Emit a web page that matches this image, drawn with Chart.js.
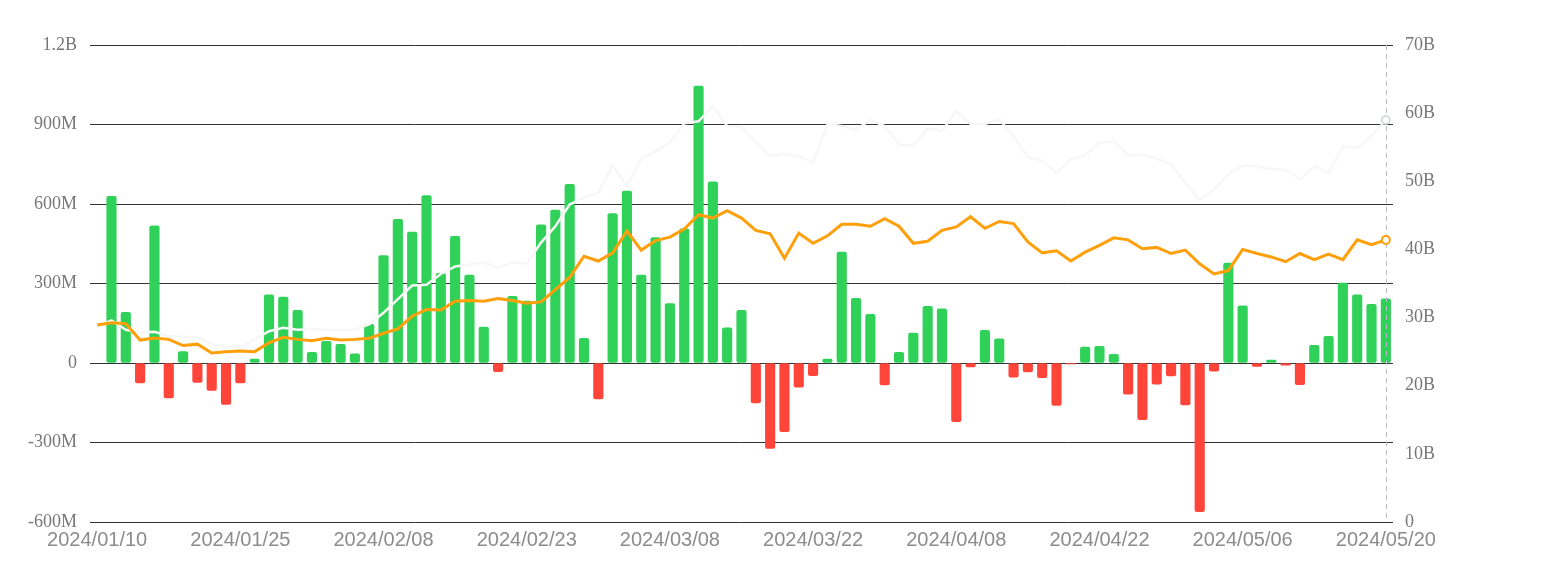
<!DOCTYPE html>
<html>
<head>
<meta charset="utf-8">
<script src="https://cdn.jsdelivr.net/npm/chart.js@4.4.0/dist/chart.umd.min.js"></script>
<style>
  html, body { margin: 0; background: #fff; }
  #wrap { width: 1548px; height: 567px; }
</style>
</head>
<body>
<div id="wrap"><canvas id="chart" width="1548" height="567"></canvas></div>
<script>
// trading days
const dates = [
  "2024/01/10", "2024/01/11", "2024/01/12", "2024/01/16", "2024/01/17", "2024/01/18", "2024/01/19",
  "2024/01/22", "2024/01/23", "2024/01/24", "2024/01/25", "2024/01/26", "2024/01/29", "2024/01/30",
  "2024/01/31", "2024/02/01", "2024/02/02", "2024/02/05", "2024/02/06", "2024/02/07", "2024/02/08",
  "2024/02/09", "2024/02/12", "2024/02/13", "2024/02/14", "2024/02/15", "2024/02/16", "2024/02/20",
  "2024/02/21", "2024/02/22", "2024/02/23", "2024/02/26", "2024/02/27", "2024/02/28", "2024/02/29",
  "2024/03/01", "2024/03/04", "2024/03/05", "2024/03/06", "2024/03/07", "2024/03/08", "2024/03/11",
  "2024/03/12", "2024/03/13", "2024/03/14", "2024/03/15", "2024/03/18", "2024/03/19", "2024/03/20",
  "2024/03/21", "2024/03/22", "2024/03/25", "2024/03/26", "2024/03/27", "2024/03/28", "2024/04/01",
  "2024/04/02", "2024/04/03", "2024/04/04", "2024/04/05", "2024/04/08", "2024/04/09", "2024/04/10",
  "2024/04/11", "2024/04/12", "2024/04/15", "2024/04/16", "2024/04/17", "2024/04/18", "2024/04/19",
  "2024/04/22", "2024/04/23", "2024/04/24", "2024/04/25", "2024/04/26", "2024/04/29", "2024/04/30",
  "2024/05/01", "2024/05/02", "2024/05/03", "2024/05/06", "2024/05/07", "2024/05/08", "2024/05/09",
  "2024/05/10", "2024/05/13", "2024/05/14", "2024/05/15", "2024/05/16", "2024/05/17", "2024/05/20"
];

// daily net flow, millions (left axis)
const netFlow = [
  null, 629, 191, -75, 518, -132, 43, -73, -103, -156,
  -75, 15, 257, 249, 199, 40, 82, 70, 35, 146,
  405, 542, 494, 632, 338, 478, 332, 136, -33, 252,
  234, 521, 577, 674, 93, -136, 564, 649, 332, 473,
  224, 506, 1045, 684, 133, 199, -151, -322, -259, -91,
  -48, 15, 419, 244, 184, -83, 40, 113, 214, 204,
  -221, -15, 123, 91, -53, -34, -55, -160, -3, 60,
  63, 33, -118, -214, -80, -49, -158, -561, -31, 377,
  216, -13, 11, -8, -82, 67, 101, 302, 257, 221,
  242
];

// orange line, billions (right axis)
const orangeLine = [
  28.9, 29.25, 29.1, 26.7, 27.0, 26.8, 25.9, 26.1, 24.8, 25.0,
  25.1, 25.0, 26.3, 27.1, 26.8, 26.6, 26.95, 26.7, 26.8, 26.95,
  27.7, 28.35, 30.2, 31.2, 31.1, 32.4, 32.5, 32.4, 32.8, 32.5,
  32.1, 32.3, 34.1, 35.9, 39.0, 38.3, 39.5, 42.7, 39.9, 41.3,
  41.8, 43.0, 45.1, 44.6, 45.7, 44.6, 42.8, 42.3, 38.7, 42.4,
  40.9, 42.0, 43.7, 43.7, 43.4, 44.5, 43.4, 40.9, 41.2, 42.8,
  43.3, 44.8, 43.1, 44.1, 43.8, 41.1, 39.5, 39.8, 38.3, 39.6,
  40.6, 41.7, 41.4, 40.1, 40.3, 39.4, 39.9, 37.9, 36.4, 36.9,
  40.0, 39.4, 38.9, 38.2, 39.4, 38.5, 39.3, 38.5, 41.4, 40.7,
  41.4
];

// white line, billions (right axis)
const whiteLine = [
  28.7, 29.6, 28.2, 27.8, 27.9, 27.3, 27.2, 27.1, 26.1, 25.8,
  25.6, 26.8, 28.0, 28.5, 28.2, 28.3, 28.2, 28.1, 28.3, 29.0,
  30.7, 32.7, 34.7, 34.8, 36.4, 37.5, 37.8, 38.1, 37.3, 38.1,
  37.9, 41.0, 43.4, 46.6, 47.6, 48.3, 52.3, 49.3, 53.3, 54.4,
  55.7, 58.5, 58.8, 61.0, 58.1, 58.0, 55.7, 53.7, 54.0, 53.7,
  52.7, 58.4, 58.1, 57.6, 59.0, 58.1, 55.4, 55.2, 57.7, 57.4,
  60.3, 58.4, 58.4, 59.1, 56.6, 53.5, 53.0, 51.3, 53.2, 53.8,
  55.7, 55.9, 53.8, 53.9, 53.3, 52.5, 49.8, 47.3, 48.8, 51.0,
  52.3, 52.2, 51.8, 51.7, 50.3, 52.2, 51.2, 55.1, 54.9, 56.6,
  59.0
];

const GREEN = "#30d158";
const RED = "#ff453a";
const ORANGE = "#ff9f0a";
const lastIdx = dates.length - 1;

const fmtLeft = (v) => {
  if (v === 0) return "0";
  if (Math.abs(v) >= 1000) return (v / 1000) + "B";
  return v + "M";
};

// dashed hover line at the last day, drawn above bars, below lines
const crosshair = {
  id: "crosshair",
  afterDatasetDraw(chart, args) {
    if (args.index !== 2) return;
    const { ctx, chartArea } = chart;
    const x = Math.round(chart.scales.x.getPixelForValue(lastIdx)) + 0.5;
    ctx.save();
    ctx.strokeStyle = "#b8bcc4";
    ctx.lineWidth = 1;
    ctx.setLineDash([5, 4]);
    ctx.beginPath();
    ctx.moveTo(x, chartArea.top);
    ctx.lineTo(x, chartArea.bottom);
    ctx.stroke();
    ctx.restore();
  },
};

new Chart(document.getElementById("chart"), {
  type: "bar",
  data: {
    labels: dates,
    datasets: [
      {
        type: "line",
        data: orangeLine,
        yAxisID: "y1",
        borderColor: ORANGE,
        borderWidth: 3,
        tension: 0,
        order: 1,
        pointRadius: (c) => (c.dataIndex === lastIdx ? 4 : 0),
        pointBackgroundColor: "#fff",
        pointBorderColor: ORANGE,
        pointBorderWidth: 2,
      },
      {
        type: "line",
        data: whiteLine,
        yAxisID: "y1",
        borderColor: "#f7f7f7",
        borderWidth: 2.5,
        tension: 0,
        order: 2,
        pointRadius: (c) => (c.dataIndex === lastIdx ? 4 : 0),
        pointBackgroundColor: "#fff",
        pointBorderColor: "#d8dcd8",
        pointBorderWidth: 2,
      },
      {
        type: "bar",
        data: netFlow,
        yAxisID: "y",
        order: 3,
        barThickness: 9.5,
        borderRadius: 2,
        borderSkipped: false,
        backgroundColor: (c) => (c.raw < 0 ? RED : GREEN),
      },
    ],
  },
  options: {
    responsive: false,
    animation: false,
    devicePixelRatio: 1,
    layout: { padding: { top: 45, left: 0, right: 0, bottom: 0 } },
    plugins: {
      legend: { display: false },
      tooltip: { enabled: false },
    },
    scales: {
      x: {
        grid: { display: false, drawTicks: false },
        border: { display: false },
        ticks: {
          autoSkip: false,
          maxRotation: 0,
          padding: 6,
          color: "#8c8c8c",
          font: { family: "Liberation Sans", size: 20 },
          callback: (v, i) => (i % 10 === 0 ? dates[i] : ""),
        },
        afterFit: (s) => { s.height = 45; },
      },
      y: {
        position: "left",
        min: -600,
        max: 1200,
        grid: { color: "#333", lineWidth: 1, drawTicks: false },
        border: { display: false },
        ticks: {
          stepSize: 300,
          padding: 13,
          color: "#777",
          font: { family: "Liberation Serif", size: 18 },
          callback: fmtLeft,
        },
        afterFit: (s) => { s.width = 90; },
      },
      y1: {
        position: "right",
        min: 0,
        max: 70,
        grid: { display: false, drawTicks: false },
        border: { display: false },
        ticks: {
          stepSize: 10,
          padding: 12,
          color: "#777",
          font: { family: "Liberation Serif", size: 18 },
          callback: (v) => (v === 0 ? "0" : v + "B"),
        },
        afterFit: (s) => { s.width = 155; },
      },
    },
  },
  plugins: [crosshair],
});
</script>
</body>
</html>
